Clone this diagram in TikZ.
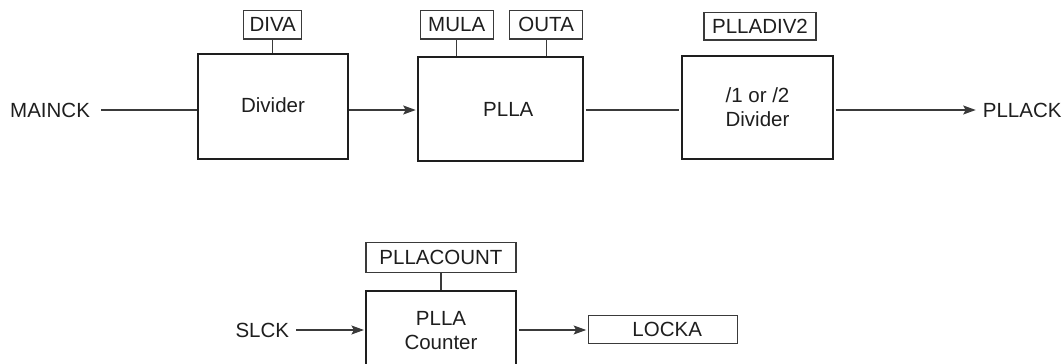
\documentclass[tikz,border=0pt]{standalone}
\usepackage{fontspec}
\setmainfont{Liberation Sans}
\usetikzlibrary{arrows.meta}
\definecolor{ink}{HTML}{1E1E1E}
\definecolor{wire}{HTML}{3A3A3A}
\tikzset{
  blk/.style={draw=ink, line width=2.2pt, rectangle, inner sep=0pt, align=center, text=ink},
  reg/.style={draw=wire, line width=1.1pt, rectangle, inner sep=0pt, text=ink},
  lbl/.style={inner sep=0pt, text=ink},
  wireln/.style={draw=wire, line width=1.2pt},
  arr/.style={wireln, -{Stealth[length=12.5pt,width=9pt,inset=2.5pt]}},
}
\begin{document}
\begin{tikzpicture}[x=1pt,y=-1pt,font=\fontsize{20.5}{24}\selectfont]
\useasboundingbox (0,0) rectangle (1063,364);
\clip (0,0) rectangle (1063,364);
% line levels
\coordinate (ytop) at (0,110);
\coordinate (ybot) at (0,330);
% blocks
\node[blk, minimum width=150.6pt, minimum height=104.7pt] (divider) at (273,106.3) {\raisebox{3pt}{Divider}};
\node[blk, minimum width=165pt, minimum height=104pt] (plla) at (500.3,109.2) {\hspace*{16pt}PLLA};
\node[blk, minimum width=150.4pt, minimum height=103.3pt] (div2) at (757.5,107.3) {/1 or /2\\Divider};
\node[blk, minimum width=150pt, minimum height=80pt] (counter) at (441,331) {PLLA\\Counter};
% register boxes
\node[reg, minimum width=58pt, minimum height=28.3pt] (diva) at (272.7,24.8) {DIVA};
\node[reg, minimum width=73.3pt, minimum height=28.3pt] (mula) at (456.7,24.8) {MULA};
\node[reg, minimum width=73pt, minimum height=28.3pt] (outa) at (546.2,24.8) {OUTA};
\node[reg, minimum width=112pt, minimum height=27.3pt] (plladiv) at (760,26.3) {PLLADIV2};
\node[reg, minimum width=150pt, minimum height=30pt] (pllacount) at (441,257.3) {PLLACOUNT};
\node[reg, minimum width=149pt, minimum height=27.6pt] (locka) at (663.2,329.5) {\hspace*{8pt}LOCKA};
% signal labels
\node[lbl, anchor=west] (mainck) at (10,110) {MAINCK};
\node[lbl, anchor=west] (pllack) at (982.7,110) {PLLACK};
\node[lbl, anchor=east] (slck) at (289.3,330) {SLCK};
% register links
\draw[wireln] (diva.south) -- (diva.south |- divider.north);
\draw[wireln] (mula.south) -- (mula.south |- plla.north);
\draw[wireln] (outa.south) -- (outa.south |- plla.north);
\draw[wireln] (pllacount.south) -- (pllacount.south |- counter.north);
% signal path
\draw[wireln] ([xshift=11pt]mainck.east |- ytop) -- (divider.west |- ytop);
\draw[arr] (divider.east |- ytop) -- ([xshift=-1pt]plla.west |- ytop);
\draw[wireln] ([xshift=2pt]plla.east |- ytop) -- ([xshift=-2pt]div2.west |- ytop);
\draw[arr] ([xshift=2pt]div2.east |- ytop) -- ([xshift=-7pt]pllack.west |- ytop);
\draw[arr] ([xshift=7pt]slck.east |- ybot) -- ([xshift=-1pt]counter.west |- ybot);
\draw[arr] ([xshift=2pt]counter.east |- ybot) -- ([xshift=-2pt]locka.west |- ybot);
\end{tikzpicture}
\end{document}
